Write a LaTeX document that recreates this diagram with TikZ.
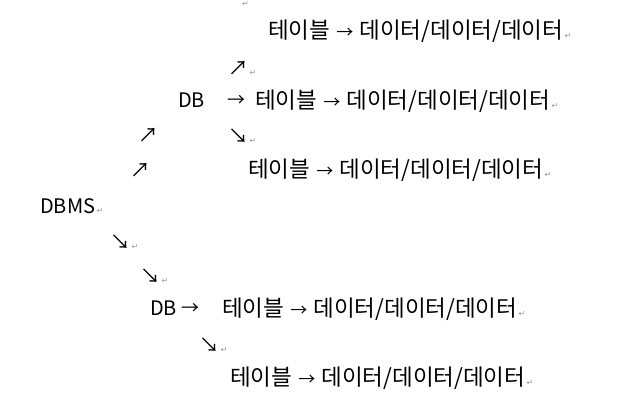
\documentclass[tikz,border=0pt]{standalone}
\usepackage{fontspec}
\setmainfont{Noto Sans CJK KR}
\newfontfamily\symf{DejaVu Sans}
\definecolor{pmark}{RGB}{150,150,150}
\newcommand\rarr{\hspace{1pt}{\fontsize{17}{17}\selectfont →}\hspace{1pt}}
\newcommand\tbl{테이블 \rarr{} 데이터/데이터/데이터}
\tikzset{
  txt/.style={anchor=base west, inner sep=0pt, font=\fontsize{22.5}{22.5}\selectfont},
  lat/.style={anchor=base west, inner sep=0pt, font=\fontsize{20}{20}\selectfont},
  arr/.style={anchor=base west, inner sep=0pt, font=\fontsize{20}{20}\selectfont},
  harr/.style={anchor=base west, inner sep=0pt, font=\fontsize{18}{18}\selectfont},
  pm/.style={anchor=base west, inner sep=0pt, xshift=1pt, font=\symf\fontsize{8}{8}\selectfont, text=pmark},
}
\begin{document}
\begin{tikzpicture}[x=1pt,y=1pt]
\path[use as bounding box] (0,0) rectangle (621,413);
% top partial mark
\node[pm] (p0) at (241,406) {↵};
% line 1
\node[txt] (t1) at (268,374) {\tbl};
\node[pm] (p1) at (t1.base east) {↵};
% line 2
\node[arr] (a2) at (228,337) {↗};
\node[pm] (p2) at (a2.base east) {↵};
% line 3
\node[lat] (db1) at (178,305) {DB};
\node[harr] (a3) at (227,306) {→};
\node[txt] (t3) at (255,304) {\tbl};
\node[pm] (p3) at (t3.base east) {↵};
% line 4
\node[arr] (a4a) at (138,270) {↗};
\node[arr] (a4b) at (228,269) {↘};
\node[pm] (p4) at (a4b.base east) {↵};
% line 5
\node[arr] (a5) at (130,235) {↗};
\node[txt] (t5) at (248,235) {\tbl};
\node[pm] (p5) at (t5.base east) {↵};
% line 6
\node[lat] (dbms) at (40,200) {DBMS};
\node[pm] (p6) at (dbms.base east) {↵};
% line 7
\node[arr] (a7) at (110,164) {↘};
\node[pm] (p7) at (a7.base east) {↵};
% line 8
\node[arr] (a8) at (140,130) {↘};
\node[pm] (p8) at (a8.base east) {↵};
% line 9
\node[lat] (db2) at (150,98) {DB};
\node[harr] (a9) at (181,99) {→};
\node[txt] (t9) at (222,97) {\tbl};
\node[pm] (p9) at (t9.base east) {↵};
% line 10
\node[arr] (a10) at (199,61) {↘};
\node[pm] (p10) at (a10.base east) {↵};
% line 11
\node[txt] (t11) at (230,28) {\tbl};
\node[pm] (p11) at (t11.base east) {↵};
\end{tikzpicture}
\end{document}
